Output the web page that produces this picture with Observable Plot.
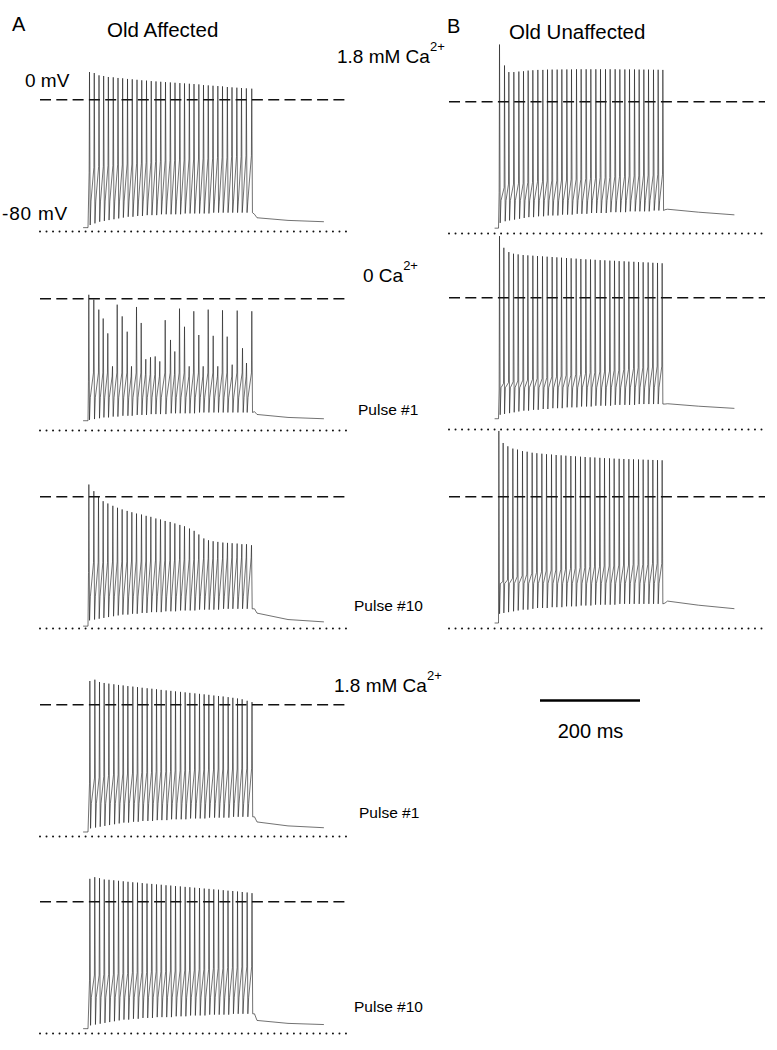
<!DOCTYPE html>
<html>
<head>
<meta charset="utf-8">
<script src="https://cdn.jsdelivr.net/npm/d3@7"></script>
<script src="https://cdn.jsdelivr.net/npm/@observablehq/plot@0.6"></script>
<style>
  html, body { margin: 0; padding: 0; background: #fff; }
  #fig { position: relative; width: 777px; height: 1050px; overflow: hidden;
         font-family: "Liberation Sans", Arial, Helvetica, sans-serif; color: #000; }
  .lbl { position: absolute; white-space: nowrap; line-height: 1; }
  .sup { position: relative; font-size: 13px; top: -12px; }
  .panel { position: absolute; }
  .panel svg { display: block; overflow: visible; background: none; }
</style>
</head>
<body>
<div id="fig"></div>
<script>
// ---------------- DATA ----------------
// time in ms from pulse onset, membrane potential in mV

// A1: Old Affected, 1.8 mM Ca2+
const a1Times   = [3, 12.5, 22, 31.3, 40.7, 50.5, 60, 69.3, 79, 88.5, 98, 107.5, 117, 126.5, 136, 145.5, 155, 164.7, 174, 183.7, 193, 202.7, 212, 221.7, 231, 240.5, 250, 259.7, 269, 278.7, 288, 297.7, 307, 316.7, 327.5];
const a1Peaks   = [16.8, 16.2, 14.8, 14.4, 13.8, 13.6, 13.2, 13.0, 12.6, 12.4, 12.1, 11.8, 11.6, 11.3, 11.1, 10.9, 10.7, 10.5, 10.3, 10.1, 9.9, 9.7, 9.5, 9.3, 8.9, 8.7, 8.5, 8.3, 8.1, 7.7, 7.5, 7.3, 7.1, 6.9, 6.7];
const a1Thresh  = [-44, -41, -40.5, -40.5, -40, -40, -39.5, -39.5, -39, -39, -38.5, -38.5, -38, -38, -37.5, -37.5, -37, -37, -37, -36.5, -36.5, -36, -36, -36, -35.5, -35.5, -35.5, -35, -35, -35, -34.5, -34.5, -34.5, -34, -34];
const a1Troughs = [-76, -75, -74, -73.5, -73, -72.5, -72, -71.5, -71, -71, -70.5, -70.5, -70, -70, -70, -69.5, -69.5, -69.5, -69.5, -69.5, -69, -69, -69, -69, -69, -69, -68.5, -68.5, -68.5, -68.5, -68.5, -68.5, -68.5, -68.5, -68.5];

// A2: 0 Ca2+, pulse #1
const a2Times   = [1.6, 11.6, 21.6, 30.4, 39.6, 49, 58.4, 68.4, 78.4, 87, 97, 106.4, 115.6, 125, 134.4, 143.6, 154.4, 165, 173.6, 183, 193, 202.4, 211.6, 221.6, 230.4, 240.4, 250.4, 259.6, 269, 278.4, 288.4, 298.4, 309, 317, 327.6];
const a2Peaks   = [2.4, -0.6, -6.6, -12, -21, -41, -3.6, -10.7, -20, -41, -5, -14.7, -36.7, -35.5, -35, -38, -13, -25, -32, -6, -17, -41, -7.6, -22, -41, -6.6, -22.5, -41, -7, -23, -40, -7.2, -30, -39, -7.6];
const a2Thresh  = [-50, -45, -45, -45, -45, -47, -45, -45, -45, -47, -45, -45, -46, -46, -46, -47, -45, -45, -46, -45, -45, -47, -45, -45, -47, -45, -45, -47, -45, -45, -47, -45, -45, -47, -45];
const a2Troughs = [-73.5, -73, -72.5, -72, -72, -71.5, -71.5, -71, -71, -71, -70.5, -70.5, -70.5, -70, -70, -70, -70, -69.5, -69.5, -69.5, -69.5, -69.5, -69.5, -69, -69, -69, -69, -69, -69, -69, -69, -69, -69, -69, -69];

// A3: 0 Ca2+, pulse #10
const a3Times   = [1.7, 11.7, 21, 30.3, 39.7, 49.7, 59, 68.3, 78.3, 87.7, 97, 107, 116.3, 125.7, 135.7, 145, 154.3, 164.3, 173.7, 183.7, 193, 203, 212.3, 221.7, 231.7, 241, 250.3, 259.7, 269.7, 279, 288.3, 298.3, 307.7, 317, 327];
const a3Peaks   = [7.4, 3.4, 0, -2.7, -4.1, -5.5, -6.7, -7.7, -8.6, -9.4, -10.2, -10.8, -11.6, -12.2, -13.2, -13.8, -14.7, -15.3, -16.2, -17.1, -17.9, -19.3, -20.7, -22.9, -25.3, -26.4, -27, -27.4, -27.8, -28, -28.2, -28.4, -28.8, -28.8, -29.4];
const a3Thresh  = [-46, -40, -40, -40, -40, -39.5, -39.5, -39.5, -39.5, -39, -39, -39, -39, -39, -38.5, -38.5, -38.5, -38.5, -38.5, -38, -38, -38, -38, -38, -37.5, -37.5, -37.5, -37.5, -37.5, -37, -37, -37, -37, -37, -37];
const a3Troughs = [-75, -74.5, -74, -73.5, -73, -72.5, -72, -71.5, -71.5, -71, -71, -70.5, -70.5, -70, -70, -70, -69.5, -69.5, -69.5, -69, -69, -69, -69, -68.5, -68.5, -68.5, -68.5, -68.5, -68, -68, -68, -68, -68, -68, -68];

// A4: back to 1.8 mM Ca2+, pulse #1
const a4Times   = [3.7, 13.7, 23, 32.3, 41.7, 51.7, 61, 70.3, 79.7, 89.7, 99, 108.3, 118.3, 127.7, 137, 146.3, 156.3, 165.7, 175, 185, 194.3, 203.7, 213.7, 223, 232.3, 241.7, 251.7, 261, 270.3, 280.3, 289.7, 299, 308.3, 318.3, 328];
const a4Peaks   = [14.4, 15.2, 13.8, 13.2, 12.8, 12.4, 12.0, 11.7, 11.3, 11.0, 10.7, 10.3, 10.0, 9.7, 9.4, 9.0, 8.7, 8.4, 8.1, 7.8, 7.5, 7.2, 6.9, 6.6, 6.3, 6.0, 5.6, 5.3, 5.0, 4.6, 4.2, 3.8, 3.3, 2.4, 1.6];
const a4Thresh  = [-48, -44.5, -44, -43.5, -43, -42.5, -42.5, -42, -42, -41.5, -41.5, -41, -41, -41, -40.5, -40.5, -40.5, -40.5, -40, -40, -40, -40, -39.5, -39.5, -39.5, -39.5, -39.5, -39, -39, -39, -39, -39, -38.5, -38.5, -38.5];
const a4Troughs = [-75, -74.5, -74, -73.5, -73, -72.5, -72, -71.5, -71.5, -71, -71, -70.5, -70.5, -70.5, -70, -70, -70, -69.5, -69.5, -69.5, -69.5, -69, -69, -69, -69, -68.5, -68.5, -68.5, -68.5, -68.5, -68, -68, -68, -68, -68];

// A5: 1.8 mM Ca2+, pulse #10
const a5Times   = [3.7, 13.5, 23, 32.5, 42, 51.5, 61, 70.5, 80, 89.5, 99, 108.5, 118, 127.5, 137, 146.5, 156, 165.5, 175, 184.7, 194.3, 203.7, 213.3, 223, 232.5, 242, 251.5, 261, 270.5, 280, 289.5, 299, 308.5, 318.3, 328];
const a5Peaks   = [13.9, 14.9, 14.3, 13.5, 13.3, 13.0, 12.7, 12.4, 12.1, 11.8, 11.6, 11.3, 11.0, 10.8, 10.5, 10.3, 10.0, 9.8, 9.5, 9.3, 9.0, 8.8, 8.5, 8.3, 8.0, 7.8, 7.5, 7.3, 7.0, 6.7, 6.5, 6.2, 5.9, 5.6, 5.2];
const a5Thresh  = [-48, -44.5, -44.5, -44, -44, -44, -43.5, -43.5, -43.5, -43, -43, -43, -43, -42.5, -42.5, -42.5, -42.5, -42, -42, -42, -41.5, -41.5, -41.5, -41, -41, -41, -40.5, -40.5, -40.5, -40, -40, -40, -39.5, -39.5, -39.5];
const a5Troughs = [-75, -74.5, -74, -73.5, -73, -72.5, -72, -71.5, -71.5, -71, -71, -70.5, -70.5, -70.5, -70, -70, -70, -70, -69.5, -69.5, -69.5, -69, -69, -69, -69, -68.5, -68.5, -68.5, -68.5, -68.5, -68, -68, -68, -68, -68];

// B1: Old Unaffected, 1.8 mM Ca2+
const b1Times   = [2, 12, 20.7, 30.7, 40.7, 50, 59.3, 68.7, 78.7, 88.7, 98, 107.3, 117.3, 126.7, 136.7, 146, 156, 165.3, 175.3, 184.7, 194.7, 204, 214, 223.3, 233.3, 242.7, 252.7, 262, 272, 281.3, 290.7, 300, 310, 319.3, 328.7];
const b1Peaks   = [34.7, 22, 18, 18, 18.3, 18.5, 18.9, 19.1, 19.3, 19.3, 19.5, 19.5, 19.5, 19.6, 19.6, 19.6, 19.7, 19.7, 19.7, 19.7, 19.7, 19.7, 19.7, 19.7, 19.7, 19.6, 19.6, 19.6, 19.6, 19.5, 19.5, 19.5, 19.4, 19.4, 19.3];
const b1Thresh  = [-55, -52, -50, -50, -49.5, -49.5, -49, -49, -48.5, -48.5, -48, -48, -48, -47.5, -47.5, -47, -47, -47, -46.5, -46.5, -46.5, -46, -46, -46, -45.5, -45.5, -45.5, -45, -45, -45, -44.5, -44.5, -44.5, -44, -44];
const b1Troughs = [-73.5, -72.5, -72, -71.5, -71, -70.5, -70, -70, -69.5, -69.5, -69, -69, -69, -68.5, -68.5, -68.5, -68, -68, -68, -67.5, -67.5, -67.5, -67.5, -67, -67, -67, -67, -66.5, -66.5, -66.5, -66.5, -66.5, -66, -66, -66];

// B2: 0 Ca2+, pulse #1
const b2Times   = [2, 10.7, 20.7, 30, 39.3, 49.3, 58.7, 68.7, 78, 88, 97.3, 107.3, 116.7, 126, 136, 145.3, 155.3, 164.7, 174.7, 184, 193.3, 203.3, 212.7, 222.7, 232, 241.3, 251.3, 260.7, 270.7, 280, 289.3, 299.3, 308.7, 318, 327.3];
const b2Peaks   = [37.4, 30.3, 27.7, 26.7, 26.3, 25.9, 25.7, 25.5, 25.3, 25.1, 24.9, 24.7, 24.5, 24.3, 24.1, 23.9, 23.7, 23.5, 23.3, 23.2, 23.0, 22.8, 22.7, 22.5, 22.4, 22.2, 22.1, 21.9, 21.8, 21.6, 21.5, 21.4, 21.2, 21.1, 20.9];
const b2Thresh  = [-56, -52, -51.5, -51, -50.5, -50, -50, -49.5, -49, -49, -48.5, -48, -48, -47.5, -47, -47, -46.5, -46.5, -46, -45.5, -45.5, -45, -45, -44.5, -44, -44, -43.5, -43.5, -43, -42.5, -42.5, -42, -42, -41.5, -41.5];
const b2Troughs = [-71, -70.5, -70, -69.5, -69, -68.5, -68.5, -68, -68, -67.5, -67.5, -67, -67, -67, -66.5, -66.5, -66.5, -66, -66, -66, -65.5, -65.5, -65.5, -65.5, -65, -65, -65, -65, -65, -64.5, -64.5, -64.5, -64.5, -64.5, -64.5];

// B3: 0 Ca2+, pulse #10
const b3Times   = [0.7, 9.3, 18.7, 28.7, 38, 48, 57.3, 67.3, 76.7, 86.7, 96, 106, 115.3, 125.3, 134.7, 144.7, 154, 164, 173.3, 183.3, 192.7, 202.7, 212, 222, 231.3, 241.3, 250.7, 260.7, 270, 280, 289.3, 299.3, 308.7, 318, 327.3];
const b3Peaks   = [39.9, 32.6, 30.6, 29.2, 28.6, 27.7, 27.3, 26.7, 26.4, 26.1, 25.8, 25.6, 25.3, 25.1, 24.9, 24.7, 24.5, 24.3, 24.1, 23.9, 23.8, 23.6, 23.4, 23.3, 23.1, 23.0, 22.9, 22.8, 22.7, 22.6, 22.5, 22.4, 22.3, 22.2, 22.1];
const b3Thresh  = [-56, -51.5, -50.5, -49.5, -48.5, -48, -47, -46.5, -46, -45.5, -45, -44.5, -44.5, -44, -44, -43.5, -43.5, -43, -43, -42.5, -42.5, -42.5, -42, -42, -42, -41.5, -41.5, -41.5, -41, -41, -41, -41, -40.5, -40.5, -40.5];
const b3Troughs = [-71, -70.5, -70, -69.5, -69, -68.5, -68.5, -68, -67.5, -67.5, -67.5, -67, -67, -67, -66.5, -66.5, -66.5, -66, -66, -66, -65.5, -65.5, -65.5, -65.5, -65.5, -65, -65, -65, -65, -65, -65, -65, -65, -65, -65];

// resting potential before the pulse, level of the lower edge of the dark shoulder band
const traceIds   = ["a1", "a2", "a3", "a4", "a5", "b1", "b2", "b3"];
const restLevels = [-77.6, -74, -78.5, -77.2, -77, -76.7, -73.4, -76.6];
const bandLevels = [-61.5, -60, -60.7, -60, -58, -60, -54.6, -52.7];
const traceStart = [-9, -9, -9, -9, -9, -7, -7, -7];

// after the current step
const tailTimes = [333, 338, 400, 471];
const a1Tail = [-69.5, -71.6, -73.2, -74];
const a2Tail = [-68.5, -70.2, -72, -72.8];
const a3Tail = [-68, -70.6, -74.5, -75.9];
const a4Tail = [-68, -71.1, -73.5, -74.6];
const a5Tail = [-68, -72, -73.8, -74.5];
const b1Tail = [-65.5, -65.2, -67, -68.6];
const b2Tail = [-64.5, -64.3, -65.8, -67.1];
const b3Tail = [-64.5, -63.3, -65.8, -67.9];

// reference lines (mV) and the scale bar (ms)
const zeroLine = [0];
const restLine = [-80];
const scaleBar = [{from: 0, to: 200, label: "200 ms"}];

// ---------------- BUILD ----------------
const series = {
  a1: [a1Times, a1Peaks, a1Thresh, a1Troughs, a1Tail],
  a2: [a2Times, a2Peaks, a2Thresh, a2Troughs, a2Tail],
  a3: [a3Times, a3Peaks, a3Thresh, a3Troughs, a3Tail],
  a4: [a4Times, a4Peaks, a4Thresh, a4Troughs, a4Tail],
  a5: [a5Times, a5Peaks, a5Thresh, a5Troughs, a5Tail],
  b1: [b1Times, b1Peaks, b1Thresh, b1Troughs, b1Tail],
  b2: [b2Times, b2Peaks, b2Thresh, b2Troughs, b2Tail],
  b3: [b3Times, b3Peaks, b3Thresh, b3Troughs, b3Tail]
};

function traceRows(id) {
  const k = traceIds.indexOf(id);
  const [times, peaks, thresh, troughs, tail] = series[id];
  const rows = [{t: traceStart[k], v: restLevels[k]}, {t: 0, v: restLevels[k]}];
  times.forEach((t, i) => {
    rows.push({t: Math.max(0, t - 0.7), v: thresh[i]});
    rows.push({t: t, v: peaks[i]});
    rows.push({t: t + 1.4, v: troughs[i]});
    if (i < times.length - 1) rows.push({t: t + 3, v: bandLevels[k]});
  });
  tailTimes.forEach((t, j) => rows.push({t, v: tail[j]}));
  return rows;
}

const fig = document.getElementById("fig");
const FONT = '"Liberation Sans", Arial, Helvetica, sans-serif';

// layout (pixels)
const A = {left: 40, width: 309, domain: [-95, 523]};
const B = {left: 449, width: 316, domain: [-98, 534]};
const PH = 211, VDOM = [-86, 42];
const layout = {
  a1: [A, 29.5], a2: [A, 228.5], a3: [A, 427.3], a4: [A, 635.2], a5: [A, 832],
  b1: [B, 31.7], b2: [B, 227.5], b3: [B, 427.2]
};

for (const id of traceIds) {
  const [col, top] = layout[id];
  const svg = Plot.plot({
    width: col.width,
    height: PH,
    margin: 0,
    x: {domain: col.domain, axis: null},
    y: {domain: VDOM, axis: null},
    style: {background: "none", overflow: "visible"},
    marks: [
      Plot.ruleY(zeroLine, {stroke: "#111", strokeWidth: 1.5, strokeDasharray: "11,5.3"}),
      Plot.ruleY(restLine, {stroke: "#111", strokeWidth: 2, strokeDasharray: "0.01,6.5", strokeLinecap: "round"}),
      Plot.line(traceRows(id), {x: "t", y: "v", stroke: "#1a1a1a", strokeWidth: 0.62})
    ]
  });
  const div = document.createElement("div");
  div.className = "panel";
  div.style.left = col.left + "px";
  div.style.top = top + "px";
  div.appendChild(svg);
  fig.appendChild(div);
}

// scale bar (same 2 ms per pixel as the traces)
{
  const sb = Plot.plot({
    width: 100, height: 60, marginTop: 0, marginLeft: 0, marginRight: 0, marginBottom: 40,
    x: {domain: [0, 200], axis: null},
    y: {domain: [0, 1], axis: null},
    style: {background: "none", overflow: "visible", fontFamily: FONT},
    marks: [
      Plot.ruleY(scaleBar, {x1: "from", x2: "to", y: 0, stroke: "#000", strokeWidth: 2.6}),
      Plot.text(scaleBar, {x: d => (d.from + d.to) / 2, y: 0, text: "label", dy: 37.7,
                           lineAnchor: "bottom", fontSize: 20, fill: "#000"})
    ]
  });
  const div = document.createElement("div");
  div.className = "panel";
  div.style.left = "540px";
  div.style.top = "680px";
  div.appendChild(sb);
  fig.appendChild(div);
}

// ---------------- LABELS ----------------
function label(html, left, baseline, size, extra) {
  const d = document.createElement("div");
  d.className = "lbl";
  d.style.left = left + "px";
  d.style.top = (baseline - 0.8465 * size) + "px";
  d.style.fontSize = size + "px";
  if (extra) Object.assign(d.style, extra);
  d.innerHTML = html;
  fig.appendChild(d);
}
const ca = '<span class="sup">2+</span>';
label("A", 12, 31, 20);
label("Old Affected", 107, 37, 20.5);
label("B", 447, 33, 20);
label("Old Unaffected", 509, 39, 20.5);
label("1.8 mM Ca" + ca, 337, 63, 19);
label("0 mV", 25, 87, 19);
label("-80 mV", 2, 220, 19, {letterSpacing: "0.8px"});
label("0 Ca" + ca, 363, 282, 19);
label("Pulse #1", 358, 415, 15.5);
label("Pulse #10", 354, 611, 15.5);
label("1.8 mM Ca" + ca, 334, 692, 19);
label("Pulse #1", 359, 818, 15.5);
label("Pulse #10", 354, 1012, 15.5);
</script>
</body>
</html>
